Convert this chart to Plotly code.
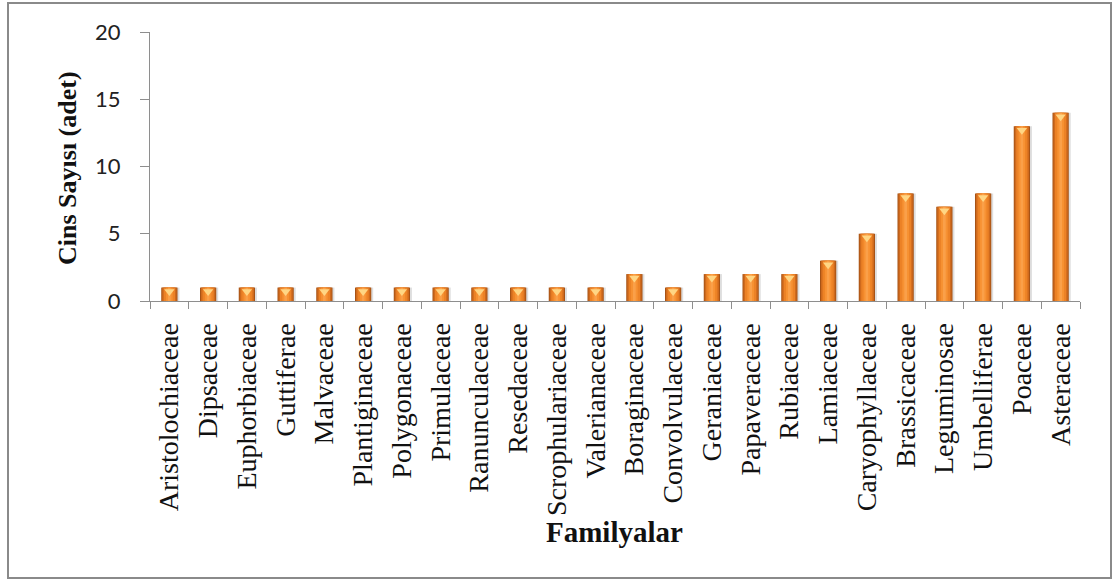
import plotly.graph_objects as go

# Genus count per plant family
families = [
    "Aristolochiaceae", "Dipsaceae", "Euphorbiaceae", "Guttiferae", "Malvaceae",
    "Plantiginaceae", "Polygonaceae", "Primulaceae", "Ranunculaceae", "Resedaceae",
    "Scrophulariaceae", "Valerianaceae", "Boraginaceae", "Convolvulaceae",
    "Geraniaceae", "Papaveraceae", "Rubiaceae", "Lamiaceae", "Caryophyllaceae",
    "Brassicaceae", "Leguminosae", "Umbelliferae", "Poaceae", "Asteraceae",
]
genus_counts = [1, 1, 1, 1, 1, 1, 1, 1, 1, 1, 1, 1, 2, 1, 2, 2, 2, 3, 5, 8, 7, 8, 13, 14]

y_ticks = [0, 5, 10, 15, 20]

fig = go.Figure()

# soft drop shadow to the right of each bar
fig.add_trace(go.Bar(
    x=families, y=genus_counts, width=0.42, offset=-0.16,
    marker=dict(color="rgba(0,0,0,0.13)", line=dict(width=0)),
    hoverinfo="skip", showlegend=False,
))

# layered bars give a rounded, shaded look: dark rim -> bright centre
shading = [
    (0.42, "#A65316"),
    (0.37, "#CF6A1D"),
    (0.29, "#EC8226"),
    (0.17, "#F79233"),
    (0.07, "#FAA049"),
]
for w, c in shading:
    fig.add_trace(go.Bar(
        x=families, y=genus_counts, width=w,
        marker=dict(color=c, line=dict(width=0)),
        hoverinfo="skip", showlegend=False,
    ))

# bevel highlight at the top of each bar
fig.add_trace(go.Scatter(
    x=families, y=genus_counts, mode="markers",
    marker=dict(symbol="triangle-down", size=9, color="#FFD684",
                standoff=4, line=dict(width=0)),
    hoverinfo="skip", showlegend=False,
))

L, R, T, B = 150, 34, 32, 279
W, H = 1114, 580
pw, ph = W - L - R, H - T - B

def px_x(p):
    return (p - L) / pw

def px_y(p):
    return (H - B - p) / ph

fig.update_layout(
    width=W, height=H,
    margin=dict(l=L, r=R, t=T, b=B),
    paper_bgcolor="white", plot_bgcolor="white",
    barmode="overlay",
    showlegend=False,
    xaxis=dict(
        type="category",
        range=[-0.5, len(families) - 0.5],
        showgrid=False, zeroline=False,
        showline=True, linecolor="#8E8E8E", linewidth=1,
        ticks="outside", tickson="boundaries", ticklen=7,
        tickcolor="#8E8E8E", tickwidth=1,
        tickangle=-90,
        tickfont=dict(family="Liberation Serif", size=28, color="#111111"),
        ticklabelstandoff=10,
    ),
    yaxis=dict(
        range=[0, 20],
        tickvals=y_ticks,
        showgrid=False, zeroline=False,
        showline=True, linecolor="#8E8E8E", linewidth=1,
        ticks="outside", ticklen=9, tickcolor="#8E8E8E", tickwidth=1,
        tickfont=dict(family="Lato", size=22, color="#222222"),
        ticklabelstandoff=15,
    ),
    annotations=[
        dict(text="<b>Cins Sayısı (adet)</b>", xref="paper", yref="paper",
             x=px_x(67), y=px_y(168), textangle=-90, showarrow=False,
             xanchor="center", yanchor="middle",
             font=dict(family="Liberation Serif", size=26, color="#111111")),
        dict(text="<b>Familyalar</b>", xref="paper", yref="paper",
             x=px_x(614), y=px_y(532), showarrow=False,
             xanchor="center", yanchor="middle",
             font=dict(family="Liberation Serif", size=29, color="#111111")),
    ],
    shapes=[
        dict(type="rect", xref="paper", yref="paper",
             x0=px_x(8), x1=px_x(1111), y0=px_y(578), y1=px_y(3),
             line=dict(color="#8A8A8A", width=2), fillcolor="rgba(0,0,0,0)",
             layer="below"),
    ],
)

fig.write_html("out.html")
